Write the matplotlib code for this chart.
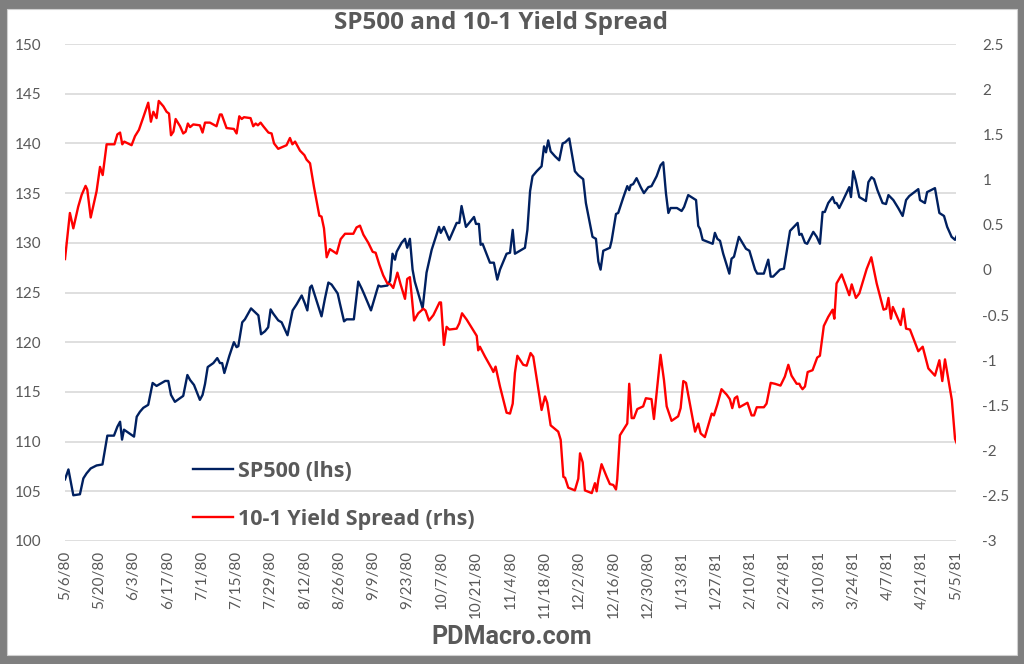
import matplotlib
matplotlib.use("Agg")
import matplotlib.pyplot as plt
import matplotlib.patches as mpatches
from matplotlib.lines import Line2D
from matplotlib.ticker import FuncFormatter
import numpy as np
import pandas as pd

# ---------------- data ----------------
start_date = "1980-05-06"
end_date = "1981-05-05"

# SP500 (lhs): day offsets from 5/6/80 and index level
spx_day = [0.0, 1.4, 3.4, 6.1, 7.5, 8.8, 10.5, 12.9, 15.3, 17.3, 20.0, 21.4, 22.5, 23.3, 24.1,
           28.2, 29.3, 30.6, 32.0, 34.0, 35.8, 37.4, 39.5, 40.9, 42.2, 43.3, 44.9, 48.3, 50.0,
           51.1, 52.7, 55.1, 56.2, 57.2, 58.3, 60.6, 62.2, 63.3, 64.2, 65.1, 67.1, 69.0, 70.1,
           70.8, 72.4, 73.5, 76.0, 79.0, 80.1, 81.7, 83.0, 84.0, 85.0, 87.1, 88.5, 90.9, 93.0,
           94.6, 96.7, 98.0, 99.0, 100.1, 100.8, 102.1, 104.8, 106.2, 107.6, 108.9, 111.4, 112.3,
           114.0, 115.0, 118.0, 119.8, 121.2, 122.1, 125.0, 128.0, 129.0, 131.7, 132.8, 133.8,
           134.8, 135.5, 137.5, 138.9, 139.8, 140.9, 142.0, 142.9, 146.1, 147.7, 149.8, 152.8,
           153.5, 154.8, 157.0, 160.0, 161.1, 162.0, 163.8, 167.1, 167.9, 169.1, 169.8, 170.6,
           173.6, 175.2, 176.6, 177.7, 180.4, 181.8, 182.9, 183.8, 187.2, 187.9, 188.9, 190.0,
           191.0, 192.7, 194.7, 195.7, 196.5, 197.4, 198.4, 200.2, 201.9, 203.3, 204.3, 206.0,
           208.3, 209.7, 211.7, 212.8, 215.5, 216.9, 217.9, 218.8, 219.9, 222.6, 223.3, 225.1,
           226.0, 228.0, 229.7, 230.5, 231.1, 232.1, 233.5, 235.2, 236.5, 238.3, 239.6, 241.7,
           243.3, 244.4, 245.5, 246.5, 247.4, 250.0, 251.9, 252.9, 254.6, 257.8, 258.7, 259.4,
           260.5, 264.6, 265.5, 266.5, 267.6, 268.9, 271.4, 272.3, 273.3, 275.3, 278.2, 279.6,
           281.9, 282.8, 285.5, 287.3, 288.3, 289.3, 292.1, 293.7, 296.2, 299.3, 300.0, 300.9,
           302.3, 303.2, 305.7, 307.1, 308.4, 309.5, 310.4, 311.8, 313.6, 314.5, 315.2, 316.3,
           317.9, 319.6, 320.4, 321.1, 322.0, 323.0, 324.5, 327.2, 328.2, 329.5, 330.5, 331.9,
           334.0, 335.4, 336.4, 338.4, 340.4, 342.2, 343.6, 344.9, 346.5, 348.6, 349.3, 351.3,
           352.2, 355.4, 357.2, 359.1, 360.4, 362.2, 363.6, 364.5]
spx_val = [106.2, 107.2, 104.6, 104.7, 106.3, 106.8, 107.3, 107.6, 107.7, 110.6, 110.6, 111.5, 112.0, 110.2, 111.2,
           110.5, 112.5, 113.0, 113.4, 113.7, 115.9, 115.6, 115.9, 116.1, 116.1, 114.7, 114.0, 114.6, 116.7,
           116.2, 115.7, 114.2, 114.7, 115.8, 117.5, 117.9, 118.4, 117.9, 117.9, 116.9, 118.6, 120.0, 119.5,
           119.6, 122.0, 122.3, 123.4, 122.7, 120.8, 121.1, 121.5, 123.3, 122.9, 122.2, 122.0, 120.7, 123.2,
           123.8, 124.7, 123.9, 123.2, 125.5, 125.7, 124.7, 122.6, 124.4, 126.0, 125.8, 124.9, 123.9,
           122.1, 122.3, 122.3, 126.1, 125.4, 124.9, 123.2, 125.7, 125.6, 125.7, 126.2, 128.9,
           128.3, 129.1, 130.0, 130.4, 129.5, 130.4, 127.3, 126.1, 123.4, 127.0, 129.3, 131.6,
           131.0, 131.6, 130.3, 132.0, 132.0, 133.7, 131.6, 132.6, 131.9, 131.9, 129.8, 129.9,
           128.0, 128.0, 126.3, 127.3, 128.9, 129.0, 131.3, 128.9, 129.4, 129.5, 131.3, 135.2,
           136.7, 137.2, 137.7, 139.7, 139.1, 140.3, 139.2, 138.7, 138.3, 140.0, 140.1, 140.5,
           137.2, 136.8, 136.4, 134.0, 130.6, 130.4, 128.1, 127.3, 129.2, 129.5, 130.2, 132.9,
           133.0, 134.5, 135.7, 135.3, 135.8, 135.9, 136.5, 135.6, 135.0, 135.6, 135.7, 136.7,
           137.8, 138.1, 135.0, 133.0, 133.5, 133.5, 133.2, 133.6, 134.8, 134.3, 131.7, 131.4,
           130.3, 129.9, 131.0, 130.4, 130.2, 128.9, 126.9, 128.4, 128.6, 130.6, 129.4, 129.2,
           127.3, 126.9, 126.9, 128.3, 126.6, 126.6, 127.3, 127.4, 131.2, 132.0, 130.8, 130.9,
           130.0, 129.9, 131.1, 130.6, 129.9, 133.1, 133.1, 134.0, 134.6, 134.0, 134.0, 133.5,
           134.3, 135.2, 135.6, 134.6, 137.2, 136.3, 134.6, 134.2, 136.1, 136.6, 136.4, 135.3,
           134.0, 133.9, 134.8, 134.3, 133.5, 132.7, 134.3, 134.7, 135.0, 135.4, 134.3, 134.0,
           135.1, 135.5, 133.0, 132.7, 131.6, 130.6, 130.3, 130.8]

# 10-1 yield spread (rhs): day offsets from 5/6/80 and spread (pct pts)
spread_day = [0.0, 2.0, 3.4, 5.4, 6.8, 8.4, 9.1, 10.5, 12.9, 14.3, 15.4, 17.0, 20.2, 21.4, 22.5, 23.4,
              24.2, 27.2, 28.6, 30.2, 32.0, 34.0, 35.1, 36.1, 37.4, 38.3, 40.2, 41.5, 42.5, 43.3,
              44.3, 45.2, 47.0, 48.3, 49.3, 50.2, 51.1, 52.4, 55.1, 56.2, 57.2, 59.2, 61.9, 63.3,
              64.0, 66.0, 69.0, 70.1, 71.2, 72.2, 73.1, 75.8, 76.9, 77.9, 78.8, 79.9, 81.0, 83.1,
              84.4, 85.4, 87.1, 90.5, 91.9, 92.9, 94.0, 96.0, 97.8, 98.7, 100.1, 101.7, 103.9,
              104.8, 105.8, 106.9, 108.2, 111.0, 112.6, 114.4, 117.8, 119.1, 120.5, 121.9, 123.9,
              125.7, 126.9, 128.4, 130.0, 131.7, 133.0, 134.1, 135.8, 137.1, 138.9, 139.8, 140.9,
              142.6, 144.3, 146.4, 147.3, 148.7, 150.5, 153.0, 153.6, 154.8, 155.9, 157.0, 160.0,
              161.1, 162.2, 164.1, 167.5, 168.2, 168.8, 169.5, 171.6, 174.3, 175.0, 175.9, 177.7,
              180.4, 181.8, 182.9, 183.8, 184.8, 187.2, 188.6, 190.2, 191.3, 192.7, 194.7, 196.1,
              197.0, 198.4, 201.5, 202.5, 203.6, 204.3, 205.6, 208.3, 209.7, 210.4, 211.5, 212.4,
              215.2, 216.5, 217.2, 217.9, 219.2, 221.3, 222.6, 224.0, 225.1, 225.6, 226.7, 229.7,
              230.5, 231.5, 232.4, 233.8, 236.2, 237.3, 239.6, 240.6, 243.3, 244.7, 245.8, 247.8,
              250.5, 251.5, 252.6, 253.7, 255.0, 257.4, 258.7, 259.7, 261.4, 264.2, 265.1, 266.5,
              268.2, 270.3, 271.6, 272.6, 273.6, 274.6, 275.5, 278.8, 280.5, 281.5, 282.6, 285.5,
              286.6, 288.3, 290.0, 292.3, 294.1, 295.5, 296.8, 298.9, 300.0, 300.5, 301.3, 302.3,
              303.4, 305.4, 307.3, 308.4, 310.0, 311.8, 313.6, 314.3, 315.2, 317.3, 320.4, 321.4,
              323.1, 324.5, 327.5, 329.4, 331.6, 334.4, 335.5, 336.4, 337.4, 338.2, 341.4, 342.5,
              343.6, 345.2, 348.6, 350.4, 352.7, 355.4, 357.2, 358.4, 359.5, 362.3, 363.6, 364.6]
spread_val = [0.12, 0.63, 0.46, 0.70, 0.83, 0.93, 0.89, 0.58, 0.87, 1.14, 1.05, 1.39, 1.39, 1.50, 1.52, 1.39,
              1.42, 1.38, 1.48, 1.55, 1.69, 1.85, 1.64, 1.75, 1.68, 1.87, 1.81, 1.75, 1.73, 1.49,
              1.53, 1.67, 1.59, 1.51, 1.53, 1.62, 1.58, 1.61, 1.60, 1.52, 1.63, 1.63, 1.59, 1.72,
              1.72, 1.57, 1.56, 1.51, 1.70, 1.67, 1.69, 1.68, 1.59, 1.62, 1.60, 1.63, 1.59, 1.52,
              1.51, 1.40, 1.34, 1.38, 1.46, 1.39, 1.42, 1.32, 1.27, 1.22, 1.18, 0.92, 0.60,
              0.59, 0.46, 0.14, 0.23, 0.18, 0.34, 0.40, 0.40, 0.47, 0.49, 0.39, 0.30,
              0.20, 0.19, 0.06, -0.06, -0.15, -0.16, -0.20, -0.03, -0.16, -0.32, -0.10, -0.08,
              -0.56, -0.48, -0.43, -0.45, -0.56, -0.50, -0.36, -0.36, -0.83, -0.63, -0.66, -0.65,
              -0.59, -0.48, -0.55, -0.70, -0.73, -0.89, -0.85, -0.96, -1.09, -1.13, -1.07, -1.29,
              -1.58, -1.59, -1.48, -1.14, -0.95, -1.05, -1.06, -0.92, -0.96, -1.20, -1.55, -1.40,
              -1.47, -1.72, -1.79, -1.88, -2.29, -2.30, -2.41, -2.44, -2.31, -2.03, -2.13, -2.44,
              -2.47, -2.36, -2.45, -2.32, -2.15, -2.29, -2.37, -2.38, -2.43, -2.32, -1.83, -1.70,
              -1.26, -1.64, -1.64, -1.54, -1.51, -1.42, -1.43, -1.65, -0.94, -1.22, -1.51, -1.67,
              -1.62, -1.53, -1.23, -1.25, -1.44, -1.79, -1.70, -1.81, -1.85, -1.59, -1.61, -1.49,
              -1.32, -1.38, -1.43, -1.53, -1.42, -1.40, -1.52, -1.47, -1.61, -1.61, -1.52, -1.52,
              -1.48, -1.25, -1.26, -1.28, -1.18, -1.05, -1.17, -1.26, -1.26, -1.29, -1.32, -1.29,
              -1.13, -1.11, -0.97, -0.95, -0.62, -0.52, -0.44, -0.54, -0.15, -0.05, -0.28, -0.16,
              -0.31, -0.26, 0.01, 0.14, -0.15, -0.44, -0.43, -0.31, -0.54, -0.41, -0.61, -0.43,
              -0.65, -0.66, -0.90, -0.85, -1.09, -1.17, -1.00, -1.23, -0.99, -1.44, -1.87, -1.94]

series_labels = ["SP500 (lhs)", "10-1 Yield Spread (rhs)"]
title_text = "SP500 and 10-1 Yield Spread"
footer_text = "PDMacro.com"

# ---------------- plot ----------------
plt.rcParams['font.family'] = ['Lato', 'DejaVu Sans']
BOLD_FONT = ['Open Sans', 'DejaVu Sans']
TXT = '#595959'
BLUE = '#002060'
RED = '#FF0000'

base = pd.Timestamp(start_date)
spx_x = base + pd.to_timedelta(np.array(spx_day), unit='D')
spr_x = base + pd.to_timedelta(np.array(spread_day), unit='D')

fig = plt.figure(figsize=(10.24, 6.64), dpi=100)
fig.patch.set_facecolor('#7f7f7f')
W, H = 1024, 664
fig.add_artist(mpatches.Rectangle((7 / W, 9 / H), 1010 / W, 646 / H, transform=fig.transFigure,
                                  facecolor='white', edgecolor='#d0d0d0', linewidth=0.8, zorder=0))

ax = fig.add_axes([65 / W, 1 - 541 / H, (956 - 65) / W, (541 - 44) / H])
ax.set_facecolor('none')
ax2 = ax.twinx()

ax.plot(spx_x, spx_val, color=BLUE, lw=1.7, zorder=3)
ax2.plot(spr_x, spread_val, color=RED, lw=1.7, zorder=3)

ax.set_ylim(100, 150)
ax.set_yticks(np.arange(100, 151, 5))
ax2.set_ylim(-3, 2.5)
ax2.set_yticks(np.arange(-3, 2.51, 0.5))
ax2.yaxis.set_major_formatter(FuncFormatter(lambda v, p: f"{v:g}" if abs(v) > 1e-9 else "0"))

ax.set_xlim(pd.Timestamp(start_date), pd.Timestamp(end_date))
xt = pd.date_range(start_date, end_date, freq='14D')
ax.set_xticks(xt)
ax.set_xticklabels([f"{d.month}/{d.day}/{d.year % 100}" for d in xt], rotation=90)

ax.grid(axis='y', color='#d9d9d9', lw=1.2)
ax.set_axisbelow(True)
for a in (ax, ax2):
    for s in a.spines.values():
        s.set_visible(False)
    a.tick_params(length=0, labelsize=11, labelcolor=TXT)
ax.tick_params(axis='y', pad=17)
ax2.tick_params(axis='y', pad=19)
ax.tick_params(axis='x', pad=7)

fig.text(501 / W, 1 - 23 / H, title_text, ha='center', va='center', fontsize=17.5,
         fontweight='bold', color=TXT, family=BOLD_FONT)
fig.text(0.5, 1 - 637 / H, footer_text, ha='center', va='center', fontsize=18,
         fontweight='bold', color=TXT, family=['Roboto', 'DejaVu Sans'])

handles = [Line2D([], [], color=BLUE, lw=1.7), Line2D([], [], color=RED, lw=1.7)]
leg = fig.legend(handles, series_labels, loc='upper left',
                 bbox_to_anchor=(182 / W, 1 - 450 / H), frameon=False,
                 prop={'family': BOLD_FONT, 'weight': 'bold', 'size': 15.5},
                 handlelength=1.85, handletextpad=0.23, labelspacing=1.25, borderpad=0)
for t in leg.get_texts():
    t.set_color(TXT)

fig.savefig('out.png', dpi=100, facecolor=fig.get_facecolor())
